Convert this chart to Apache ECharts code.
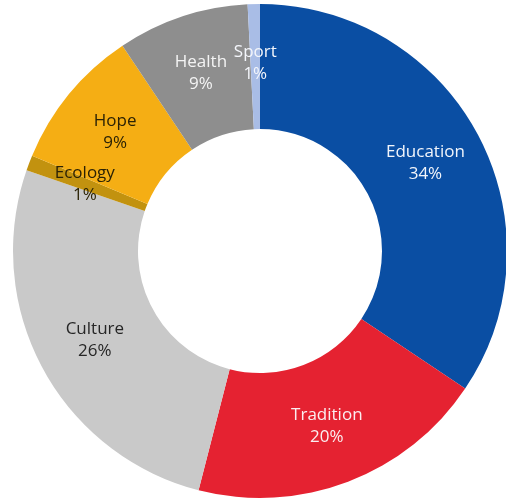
<!DOCTYPE html>
<html>
<head>
<meta charset="utf-8">
<script src="https://cdn.jsdelivr.net/npm/echarts@6/dist/echarts.min.js"></script>
<style>
html,body{margin:0;padding:0;background:#fff;}
#c{width:506px;height:502px;}
</style>
</head>
<body>
<div id="c"></div>
<script>
const categories = ['Education', 'Tradition', 'Culture', 'Ecology', 'Hope', 'Health', 'Sport'];
const values = [34.4, 19.6, 26.3, 1.0, 9.3, 8.6, 0.8];
const colors = ['#0A4EA3', '#E52231', '#C9C9C9', '#C2920F', '#F5AE14', '#8E8E8E', '#A9BDE6'];
const labelColors = ['#f2f5fb', '#fbeef0', '#262626', '#2b2205', '#2b2205', '#f4f4f4', '#f4f6fb'];

const chart = echarts.init(document.getElementById('c'), null, {renderer: 'canvas'});
chart.setOption({
  animation: false,
  backgroundColor: '#ffffff',
  series: [{
    type: 'pie',
    center: [260, 251],
    radius: [122, 247],
    startAngle: 90,
    clockwise: true,
    avoidLabelOverlap: false,
    label: {
      show: true,
      position: 'inside',
      formatter: p => p.name + '\n' + Math.round(p.value) + '%',
      fontFamily: "'Liberation Sans Narrow', 'Open Sans', sans-serif",
      fontSize: 17,
      lineHeight: 22,
      align: 'center'
    },
    labelLine: {show: false},
    itemStyle: {borderWidth: 0},
    emphasis: {disabled: true},
    data: categories.map((n, i) => ({
      name: n,
      value: values[i],
      itemStyle: {color: colors[i]},
      label: {color: labelColors[i]}
    }))
  }]
});
</script>
</body>
</html>
